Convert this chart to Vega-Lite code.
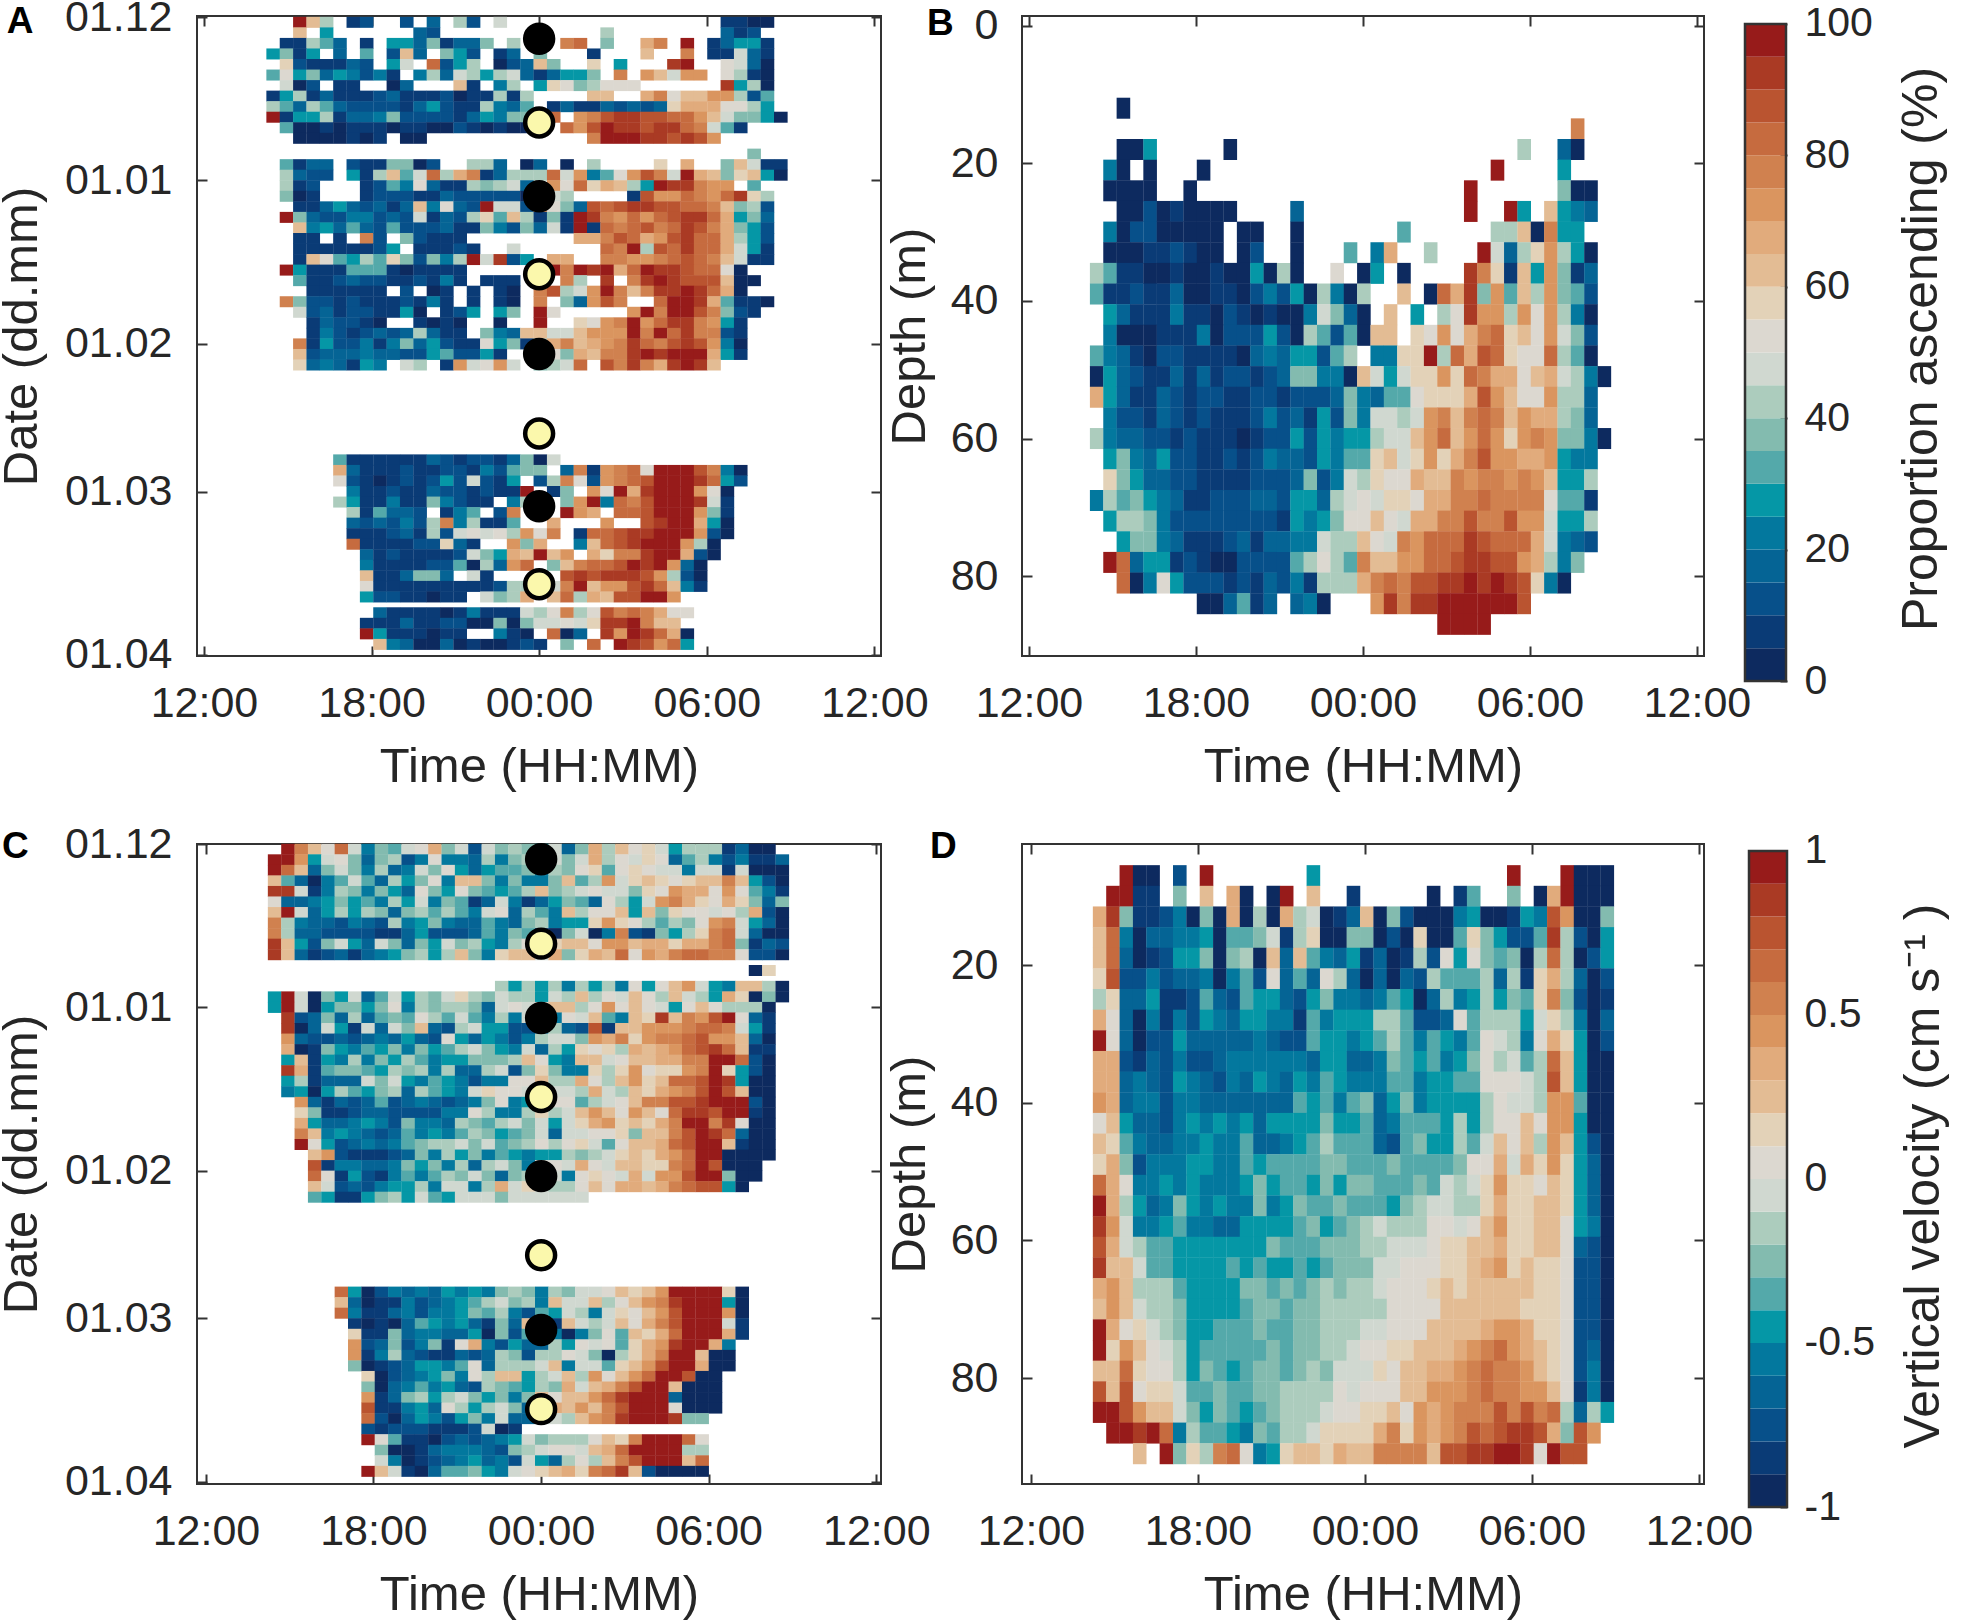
{"$schema":"https://vega.github.io/schema/vega-lite/v6.json","background":"white","padding":{"left":-4,"top":-5,"right":0,"bottom":0},"bounds":"flush","align":"each","columns":4,"spacing":{"row":163,"column":41},
"config":{"font":"Liberation Sans","view":{"stroke":"#333333","strokeWidth":2},"axis":{"labelFont":"Liberation Sans","titleFont":"Liberation Sans","labelFontSize":43,"titleFontSize":49,"titleFontWeight":"normal","labelColor":"#262626","titleColor":"#262626","domain":false,"grid":false,"tickColor":"#333333","tickWidth":2,"tickSize":-10,"labelOverlap":false,"labelBound":false,"labelFlush":false},"text":{"font":"Liberation Sans"}},
"concat":[
{"width":684,"height":640,"layer":[
{"data":{"values":[
{"d":1,"v":[-1,-1,19,12,8,-1,1,2,-1,-1,2,-1,3,-1,8,2,-1,9,-1,-1,-1,-1,-1,-1,-1,-1,-1,-1,-1,-1,-1,-1,-1,-1,1,1,0,0]},
{"d":3,"v":[-1,-1,12,-1,5,-1,-1,-1,-1,-1,-1,3,2,-1,-1,-1,-1,-1,-1,-1,-1,-1,-1,-1,-1,8,-1,-1,-1,-1,-1,-1,-1,-1,3,1,2]},
{"d":5,"v":[-1,1,1,8,6,3,-1,1,-1,5,5,3,7,1,3,3,7,-1,8,-1,-1,-1,15,16,-1,7,-1,-1,13,15,-1,19,-1,1,3,5,5,1]},
{"d":7,"v":[5,7,1,5,-1,3,-1,6,-1,2,12,3,-1,7,5,2,-1,1,3,-1,7,-1,-1,-1,1,-1,-1,-1,12,-1,-1,15,-1,1,1,9,3,1]},
{"d":9,"v":[-1,11,2,1,1,1,3,2,-1,5,9,-1,16,2,5,8,-1,0,2,3,12,7,-1,-1,11,-1,5,-1,-1,-1,18,19,-1,-1,10,9,3,0]},
{"d":11,"v":[6,10,5,7,3,5,4,2,4,1,-1,4,8,3,9,8,5,8,9,3,1,3,5,5,7,-1,15,-1,14,12,9,14,14,-1,10,8,1,0]},
{"d":13,"v":[-1,9,0,2,-1,1,1,-1,-1,0,3,-1,-1,-1,12,1,-1,4,8,-1,5,11,10,7,8,10,10,10,-1,-1,-1,-1,-1,-1,18,5,8,0]},
{"d":15,"v":[1,5,8,1,3,1,1,1,2,3,1,1,1,2,0,1,1,8,1,8,-1,-1,-1,-1,12,12,-1,-1,13,15,10,12,12,14,14,8,2,6]},
{"d":17,"v":[8,6,3,8,6,3,2,2,2,2,1,3,5,2,1,1,8,4,3,6,-1,1,3,1,1,3,2,3,2,3,11,13,13,13,10,10,8,5]},
{"d":19,"v":[19,1,5,5,8,1,3,3,4,7,2,2,2,2,1,3,5,4,7,7,14,16,-1,14,15,17,18,18,17,17,16,16,14,12,9,7,7,5,0]},
{"d":21,"v":[-1,6,0,0,1,0,1,1,1,0,1,1,0,0,2,1,0,1,0,0,12,-1,16,14,17,19,18,18,17,18,18,16,15,9,6,1]},
{"d":23,"v":[-1,-1,0,0,0,0,1,0,1,-1,0,0,-1,-1,-1,-1,-1,-1,-1,-1,-1,-1,-1,-1,15,19,19,19,18,18,17,18,17,14]},
{"d":26,"v":[-1,-1,-1,-1,-1,-1,-1,-1,-1,-1,-1,-1,-1,-1,-1,-1,-1,-1,-1,-1,-1,-1,-1,-1,-1,-1,-1,-1,-1,-1,-1,-1,-1,-1,-1,-1,7]},
{"d":28,"v":[-1,6,1,3,3,-1,2,1,1,7,7,0,2,-1,-1,8,8,3,-1,0,3,-1,0,-1,8,-1,-1,-1,-1,11,-1,13,-1,-1,7,12,9,1,1]},
{"d":30,"v":[-1,8,3,2,2,-1,5,1,8,12,6,9,16,8,13,15,1,3,8,8,8,16,9,14,4,6,10,14,17,15,9,19,13,12,7,11,12,5,0]},
{"d":32,"v":[-1,8,1,2,-1,-1,-1,1,2,6,4,10,3,1,1,8,7,8,9,3,-1,14,10,16,11,13,12,8,5,19,18,18,15,14,14,-1,6]},
{"d":34,"v":[-1,7,0,1,-1,-1,-1,1,2,2,2,1,1,3,2,2,2,2,2,0,-1,9,8,-1,-1,-1,-1,1,17,14,14,16,15,14,16,18,11,8]},
{"d":36,"v":[-1,-1,1,1,3,5,3,2,3,1,3,12,4,10,3,2,19,9,9,2,14,10,7,3,17,16,17,18,18,17,17,16,16,15,12,7,8,2]},
{"d":38,"v":[-1,19,7,3,2,2,4,4,2,3,2,9,1,3,2,8,11,6,12,8,1,7,1,19,18,15,14,16,14,16,17,18,18,16,13,5,7,3]},
{"d":40,"v":[-1,-1,12,4,5,3,6,3,2,6,2,2,2,3,1,1,7,4,2,7,3,9,1,19,1,16,15,16,17,15,16,18,17,15,13,7,5,2]},
{"d":42,"v":[-1,-1,1,1,-1,1,-1,15,2,-1,7,2,1,1,1,-1,-1,-1,-1,-1,-1,-1,-1,13,13,15,17,16,13,14,17,18,16,16,13,8,5,2]},
{"d":44,"v":[-1,-1,1,1,1,1,1,1,2,5,-1,1,1,1,2,1,-1,-1,9,-1,-1,-1,-1,-1,-1,16,15,19,8,17,16,18,16,16,13,9,5,1]},
{"d":46,"v":[-1,-1,1,12,10,6,5,8,6,11,7,2,7,4,8,19,9,18,2,5,-1,13,13,-1,-1,15,15,14,14,15,16,17,16,15,12,9,1,1]},
{"d":48,"v":[-1,19,5,1,1,1,6,6,6,1,0,1,1,1,1,-1,-1,-1,-1,-1,-1,19,15,19,18,19,13,16,19,18,18,17,16,16,10,0]},
{"d":50,"v":[-1,-1,6,1,1,2,3,2,2,1,1,2,1,4,1,-1,1,1,1,-1,-1,-1,15,8,-1,18,-1,15,18,19,18,17,17,17,12,0,0]},
{"d":52,"v":[-1,-1,-1,1,1,1,1,1,1,-1,2,-1,0,1,-1,1,-1,1,0,-1,15,17,8,9,14,19,15,12,15,18,18,19,18,16,13,0]},
{"d":54,"v":[-1,15,7,2,2,1,2,1,1,1,2,1,4,1,-1,1,-1,1,0,-1,15,-1,7,3,14,17,15,-1,-1,16,19,19,18,13,6,1,1,0]},
{"d":56,"v":[-1,-1,9,2,3,1,2,2,1,1,5,0,-1,1,2,5,-1,5,7,-1,19,10,-1,-1,-1,-1,-1,14,19,15,19,19,17,15,7,2,1]},
{"d":58,"v":[-1,-1,-1,1,3,2,2,1,0,-1,-1,1,0,1,0,-1,-1,0,-1,-1,19,-1,-1,11,10,14,15,19,14,16,18,18,15,14,5,1]},
{"d":60,"v":[-1,-1,-1,1,4,2,1,2,3,2,3,8,3,1,1,-1,7,4,3,12,12,9,9,12,14,14,14,19,15,19,16,18,15,15,2,1]},
{"d":62,"v":[-1,-1,15,1,5,2,2,4,1,4,7,3,5,2,1,1,10,5,7,1,8,13,15,12,13,14,15,18,16,15,17,18,17,14,4,0]},
{"d":64,"v":[-1,-1,12,2,3,3,3,4,3,3,2,2,5,6,2,2,5,1,-1,-1,5,10,7,13,12,15,15,18,19,18,19,19,19,13,5,1]},
{"d":66,"v":[-1,-1,11,3,4,3,1,5,4,-1,9,8,-1,1,14,9,10,14,9,-1,7,8,9,16,-1,17,15,18,15,13,18,19,18,12]},
{"d":84,"v":[-1,-1,-1,-1,-1,6,1,1,1,1,1,1,3,2,1,2,2,1,3,7,0,9]},
{"d":86,"v":[-1,-1,-1,-1,-1,13,3,1,1,1,2,1,1,2,2,1,4,2,6,7,7,-1,3,15,1,14,15,16,10,19,19,19,17,15,4,0]},
{"d":88,"v":[-1,-1,-1,-1,-1,10,2,1,0,1,2,1,2,5,2,9,2,1,5,-1,2,8,15,10,2,14,15,16,17,19,19,19,18,16,5,2]},
{"d":90,"v":[-1,-1,-1,-1,-1,-1,4,1,1,2,1,1,3,2,2,1,2,1,1,19,-1,1,7,-1,14,10,19,13,18,19,19,19,14,10,0]},
{"d":92,"v":[-1,-1,-1,-1,-1,8,5,1,1,4,1,1,7,4,2,1,1,-1,4,8,-1,-1,7,14,19,4,16,15,17,19,19,19,18,9,1]},
{"d":94,"v":[-1,-1,-1,-1,-1,-1,8,1,6,3,3,2,-1,1,4,6,-1,2,15,-1,-1,-1,19,14,13,-1,16,16,17,19,19,19,14,7,1]},
{"d":96,"v":[-1,-1,-1,-1,-1,-1,3,2,3,2,4,2,8,15,4,8,1,1,6,-1,-1,13,-1,-1,-1,14,-1,-1,17,18,19,19,13,5,0]},
{"d":98,"v":[-1,-1,-1,-1,-1,-1,1,1,1,2,3,1,8,2,9,10,9,10,8,14,10,15,-1,1,16,16,17,18,18,19,19,19,14,2,0]},
{"d":100,"v":[-1,-1,-1,-1,-1,-1,16,1,1,1,1,2,2,11,3,1,-1,-1,14,7,13,-1,-1,4,12,16,17,18,19,19,19,14,8,0]},
{"d":102,"v":[-1,-1,-1,-1,-1,-1,-1,3,1,2,1,1,1,1,2,9,7,5,13,12,19,12,14,-1,13,11,15,15,18,19,19,13,2,0]},
{"d":104,"v":[-1,-1,-1,-1,-1,-1,-1,4,1,1,1,1,2,2,6,0,8,3,14,16,-1,7,12,15,16,16,17,19,18,19,14,3,0]},
{"d":106,"v":[-1,-1,-1,-1,-1,-1,-1,12,1,1,3,7,7,3,-1,9,1,-1,-1,-1,16,-1,17,18,17,18,18,18,17,14,8,2,0]},
{"d":108,"v":[-1,-1,-1,-1,-1,-1,-1,10,1,1,1,1,1,1,1,1,1,2,8,8,-1,9,15,19,12,14,14,17,18,16,12,4,1]},
{"d":110,"v":[-1,-1,-1,-1,-1,-1,-1,5,2,2,1,1,0,1,1,-1,9,7,8,13,-1,12,16,8,13,12,17,17,19,19,14]},
{"d":113,"v":[-1,-1,-1,-1,-1,-1,-1,-1,3,1,1,1,1,0,1,4,1,1,1,9,8,10,15,8,10,17,15,16,15,13,10,10]},
{"d":115,"v":[-1,-1,-1,-1,-1,-1,-1,1,1,1,3,1,1,2,2,0,0,7,0,7,9,9,10,9,11,18,18,19,15,12,12]},
{"d":117,"v":[-1,-1,-1,-1,-1,-1,-1,19,5,1,1,1,0,1,1,-1,-1,4,1,0,-1,16,0,3,-1,18,14,19,18,16,13,0]},
{"d":119,"v":[-1,-1,-1,-1,-1,-1,-1,-1,12,4,3,0,0,3,0,1,0,0,1,2,1,-1,7,-1,16,-1,19,18,17,14,16,5]}
]},"transform":[{"flatten":["v"]},{"window":[{"op":"row_number","as":"i"}],"groupby":["d"]},{"filter":"datum.v>=0"}],
"mark":{"type":"rect","width":13.6,"height":11,"xOffset":6.7},
"encoding":{"x":{"field":"i","type":"quantitative","scale":{"domain":[-4.2,47],"nice":false,"zero":false},"axis":{"values":[-3.68,8.87,21.41,33.96,46.5],"labelExpr":"datum.value<0?'12:00':datum.value<15?'18:00':datum.value<25?'00:00':datum.value<40?'06:00':'12:00'","title":"Time (HH:MM)","labelPadding":36,"titlePadding":17}},
"y":{"field":"d","type":"quantitative","scale":{"domain":[-0.2,121.2],"nice":false,"zero":false,"reverse":true},"axis":{"values":[0,31,62,90,121],"labelExpr":"datum.value==0?'01.12':datum.value==31?'01.01':datum.value==62?'01.02':datum.value==90?'01.03':'01.04'","title":"Date (dd.mm)","labelPadding":35,"titlePadding":18}},
"color":{"field":"v","type":"ordinal","scale":{"domain":[0,1,2,3,4,5,6,7,8,9,10,11,12,13,14,15,16,17,18,19],"range":["#0D2A5F","#0A3B76","#07508A","#056495","#03789E","#0597A6","#54A9AA","#83BBAF","#ACCCBD","#D0D8D0","#DCD8D0","#E3D2B8","#E3BC94","#E1AB7C","#DA955F","#D0814F","#C66B3F","#BA5430","#AA3A24","#971B1A"]},"legend":null}}},
{"data":{"values":[{"i":21.41,"d":4.1,"phase":"new"},{"i":21.41,"d":20,"phase":"full"},{"i":21.41,"d":34,"phase":"new"},{"i":21.41,"d":48.8,"phase":"full"},{"i":21.41,"d":63.9,"phase":"new"},{"i":21.41,"d":79,"phase":"full"},{"i":21.41,"d":92.8,"phase":"new"},{"i":21.41,"d":107.6,"phase":"full"}]},
"mark":{"type":"point","filled":true,"size":780,"stroke":"#000000","strokeWidth":4.5,"opacity":1},
"encoding":{"x":{"field":"i","type":"quantitative","axis":{"orient":"top","labels":false,"title":null,"values":[-3.68,8.87,21.41,33.96,46.5]}},"y":{"field":"d","type":"quantitative","axis":{"orient":"right","labels":false,"title":null,"values":[0,31,62,90,121]}},"color":{"field":"phase","type":"nominal","scale":{"domain":["new","full"],"range":["#000000","#FBF8AC"]},"legend":null}}},
{"data":{"values":[{"i":-17.45,"d":1,"label":"A"}]},"mark":{"type":"text","fontSize":37,"fontWeight":"bold","color":"#000000","clip":false},"encoding":{"x":{"field":"i","type":"quantitative","axis":null},"y":{"field":"d","type":"quantitative","axis":null},"text":{"field":"label"}}}
],"resolve":{"axis":{"x":"independent","y":"independent"},"scale":{"color":"independent"}}},
{"width":59,"height":640,"view":{"stroke":null},"data":{"values":[]},"mark":"rect","encoding":{}},
{"width":682,"height":640,"layer":[
{"data":{"values":[
{"d":12,"v":[-1,-1,0]},
{"d":15,"v":[-1,-1,-1,-1,-1,-1,-1,-1,-1,-1,-1,-1,-1,-1,-1,-1,-1,-1,-1,-1,-1,-1,-1,-1,-1,-1,-1,-1,-1,-1,-1,-1,-1,-1,-1,-1,15]},
{"d":18,"v":[-1,-1,0,0,5,-1,-1,-1,-1,-1,0,-1,-1,-1,-1,-1,-1,-1,-1,-1,-1,-1,-1,-1,-1,-1,-1,-1,-1,-1,-1,-1,8,-1,-1,3,0]},
{"d":21,"v":[-1,4,0,-1,0,-1,-1,-1,0,-1,-1,-1,-1,-1,-1,-1,-1,-1,-1,-1,-1,-1,-1,-1,-1,-1,-1,-1,-1,-1,19,-1,-1,-1,-1,5]},
{"d":24,"v":[-1,0,0,0,0,-1,-1,0,-1,-1,-1,-1,-1,-1,-1,-1,-1,-1,-1,-1,-1,-1,-1,-1,-1,-1,-1,-1,19,-1,-1,-1,-1,-1,-1,7,0,0]},
{"d":27,"v":[-1,-1,0,0,2,0,1,0,0,0,0,-1,-1,-1,-1,3,-1,-1,-1,-1,-1,-1,-1,-1,-1,-1,-1,-1,19,-1,-1,19,5,-1,12,5,4,3]},
{"d":30,"v":[-1,4,0,2,2,0,0,0,0,0,-1,0,0,-1,-1,0,-1,-1,-1,-1,-1,-1,-1,6,-1,-1,-1,-1,-1,-1,8,8,12,0,15,5,5]},
{"d":33,"v":[-1,0,0,0,1,1,2,1,0,0,-1,0,2,-1,-1,0,-1,-1,-1,6,-1,4,13,-1,-1,8,-1,-1,-1,19,9,3,8,11,14,8,5,0]},
{"d":36,"v":[8,6,1,1,0,0,1,0,0,1,0,0,5,0,8,0,-1,-1,10,-1,0,5,-1,0,-1,-1,-1,-1,18,15,11,1,12,5,14,7,1,3]},
{"d":39,"v":[6,1,1,2,1,1,3,0,0,1,1,0,2,4,2,5,0,8,4,0,8,-1,-1,12,-1,0,16,13,18,7,14,6,12,8,14,7,6,2]},
{"d":42,"v":[-1,5,3,1,1,1,4,1,1,0,2,1,0,1,0,0,4,9,7,3,0,-1,12,-1,5,-1,8,10,18,14,14,8,14,10,14,8,4,0]},
{"d":45,"v":[-1,4,0,0,0,1,1,1,4,0,2,2,2,5,2,0,8,6,2,6,0,12,12,-1,11,10,14,10,13,15,16,11,12,10,14,9,7,2]},
{"d":48,"v":[6,4,3,1,0,2,2,1,1,1,1,0,3,4,3,5,5,2,6,8,-1,4,4,11,11,19,8,16,13,17,16,11,10,10,16,8,6,0]},
{"d":51,"v":[0,5,3,2,1,1,3,1,3,1,2,2,1,2,3,7,7,4,4,0,12,9,5,9,11,11,14,11,16,15,13,13,10,12,13,9,8,4,0]},
{"d":54,"v":[13,5,3,1,1,3,2,1,2,2,1,1,2,2,1,2,2,2,3,7,4,3,6,6,10,11,11,11,13,17,14,12,10,10,14,8,8,3]},
{"d":57,"v":[-1,4,2,2,1,3,2,1,2,1,1,1,2,4,2,3,1,5,2,7,4,9,9,8,9,14,15,12,15,16,15,12,14,13,13,8,7,3]},
{"d":60,"v":[8,4,3,3,2,2,1,2,1,1,1,0,1,2,2,5,2,5,4,5,5,8,9,9,12,14,16,12,14,16,14,11,14,15,14,7,7,4,0]},
{"d":63,"v":[-1,5,7,4,3,5,2,2,1,1,2,1,2,4,3,3,2,5,4,6,6,11,12,9,11,14,11,13,15,17,14,14,13,13,14,5,4,4]},
{"d":66,"v":[-1,11,7,5,3,3,2,2,1,1,1,1,2,2,2,3,7,2,4,9,8,11,10,10,13,12,12,15,14,15,15,14,15,14,12,5,5,8]},
{"d":69,"v":[4,8,6,7,5,4,3,1,1,2,2,2,3,3,2,5,5,3,8,9,10,9,11,11,10,13,13,15,15,16,15,15,15,15,10,6,6,1]},
{"d":72,"v":[-1,5,8,8,7,4,2,2,2,2,2,2,2,2,1,5,4,5,7,10,10,12,10,9,13,13,15,15,17,15,15,17,14,14,9,5,5,8]},
{"d":75,"v":[-1,-1,5,7,7,4,3,1,1,1,2,3,1,3,3,4,4,9,8,8,12,10,9,15,14,16,16,16,18,17,16,16,16,13,9,4,3,2]},
{"d":78,"v":[-1,19,16,3,5,5,1,2,1,0,0,2,2,2,2,6,8,10,8,6,15,12,12,14,14,16,16,17,18,18,17,17,14,13,8,4,7]},
{"d":81,"v":[-1,-1,16,0,4,10,5,2,2,2,1,2,1,3,2,4,1,8,8,8,13,15,16,15,17,17,18,18,19,18,19,18,17,11,4,0]},
{"d":84,"v":[-1,-1,-1,-1,-1,-1,-1,-1,0,0,3,6,1,3,-1,3,4,0,-1,-1,-1,14,18,15,18,18,19,19,19,19,19,19,17]},
{"d":87,"v":[-1,-1,-1,-1,-1,-1,-1,-1,-1,-1,-1,-1,-1,-1,-1,-1,-1,-1,-1,-1,-1,-1,-1,-1,-1,-1,19,19,19,19]}
]},"transform":[{"flatten":["v"]},{"window":[{"op":"row_number","as":"i"}],"groupby":["d"]},{"filter":"datum.v>=0"}],
"mark":{"type":"rect","width":13.6,"height":21,"xOffset":6.7},
"encoding":{"x":{"field":"i","type":"quantitative","scale":{"domain":[-4.09,46.96],"nice":false,"zero":false},"axis":{"values":[-3.57,8.93,21.43,33.93,46.43],"labelExpr":"datum.value<0?'12:00':datum.value<15?'18:00':datum.value<25?'00:00':datum.value<40?'06:00':'12:00'","title":"Time (HH:MM)","labelPadding":36,"titlePadding":17}},
"y":{"field":"d","type":"quantitative","scale":{"domain":[-1.4,91.6],"nice":false,"zero":false,"reverse":true},"axis":{"values":[0,20,40,60,80],"title":"Depth (m)","labelPadding":34,"titlePadding":16}},
"color":{"field":"v","type":"ordinal","scale":{"domain":[0,1,2,3,4,5,6,7,8,9,10,11,12,13,14,15,16,17,18,19],"range":["#0D2A5F","#0A3B76","#07508A","#056495","#03789E","#0597A6","#54A9AA","#83BBAF","#ACCCBD","#D0D8D0","#DCD8D0","#E3D2B8","#E3BC94","#E1AB7C","#DA955F","#D0814F","#C66B3F","#BA5430","#AA3A24","#971B1A"]},"legend":null}}},
{"data":{"values":[{"i":-10.2,"d":-0.3,"label":"B"}]},"mark":{"type":"text","fontSize":37,"fontWeight":"bold","color":"#000000","clip":false},"encoding":{"x":{"field":"i","type":"quantitative","axis":{"orient":"top","labels":false,"title":null,"values":[-3.57,8.93,21.43,33.93,46.43]}},"y":{"field":"d","type":"quantitative","axis":{"orient":"right","labels":false,"title":null,"values":[0,20,40,60,80]}},"text":{"field":"label"}}}
],"resolve":{"axis":{"x":"independent","y":"independent"}}},
{"width":42,"height":665,"view":{"stroke":null},"layer":[
{"data":{"values":[{"lo":0,"hi":5,"v":0},{"lo":5,"hi":10,"v":1},{"lo":10,"hi":15,"v":2},{"lo":15,"hi":20,"v":3},{"lo":20,"hi":25,"v":4},{"lo":25,"hi":30,"v":5},{"lo":30,"hi":35,"v":6},{"lo":35,"hi":40,"v":7},{"lo":40,"hi":45,"v":8},{"lo":45,"hi":50,"v":9},{"lo":50,"hi":55,"v":10},{"lo":55,"hi":60,"v":11},{"lo":60,"hi":65,"v":12},{"lo":65,"hi":70,"v":13},{"lo":70,"hi":75,"v":14},{"lo":75,"hi":80,"v":15},{"lo":80,"hi":85,"v":16},{"lo":85,"hi":90,"v":17},{"lo":90,"hi":95,"v":18},{"lo":95,"hi":100,"v":19}]},
"mark":{"type":"rect"},
"encoding":{"x":{"datum":0,"scale":{"domain":[0,42]},"axis":null},"x2":{"datum":41},"y":{"field":"lo","type":"quantitative","scale":{"domain":[0,101.2],"nice":false,"zero":false},"axis":{"orient":"right","values":[0,20,40,60,80,100],"labelFontSize":41,"tickSize":-7,"title":"Proportion ascending (%)","titleFontSize":50,"titleAngle":270,"titleBaseline":"top","labelPadding":24,"titlePadding":24}},"y2":{"field":"hi"},
"color":{"field":"v","type":"ordinal","scale":{"domain":[0,1,2,3,4,5,6,7,8,9,10,11,12,13,14,15,16,17,18,19],"range":["#0D2A5F","#0A3B76","#07508A","#056495","#03789E","#0597A6","#54A9AA","#83BBAF","#ACCCBD","#D0D8D0","#DCD8D0","#E3D2B8","#E3BC94","#E1AB7C","#DA955F","#D0814F","#C66B3F","#BA5430","#AA3A24","#971B1A"]},"legend":null}}},
{"data":{"values":[{"lo":0,"hi":100}]},"mark":{"type":"rect","fillOpacity":0,"stroke":"#333333","strokeWidth":2.5},"encoding":{"x":{"datum":0,"scale":{"domain":[0,42]},"axis":null},"x2":{"datum":41},"y":{"field":"lo","type":"quantitative"},"y2":{"field":"hi"}}}
]},
{"width":684,"height":640,"layer":[
{"data":{"values":[
{"d":1,"v":[-1,19,15,12,10,16,9,4,7,6,9,10,13,7,9,2,9,7,8,7,5,9,3,7,13,8,12,10,11,9,5,8,8,8,1,3,0,0]},
{"d":3,"v":[19,19,14,5,9,10,7,3,7,8,2,4,10,4,4,3,8,4,7,8,5,9,7,9,13,8,10,9,11,10,3,6,8,4,2,4,1,1,3]},
{"d":5,"v":[19,16,12,3,7,9,7,4,8,3,4,9,7,10,5,3,5,6,6,7,4,8,7,10,11,6,10,11,10,9,9,4,9,9,1,9,0,0,0]},
{"d":7,"v":[12,6,3,0,4,6,9,6,3,8,5,7,10,4,12,12,7,4,7,4,4,7,12,6,8,14,9,11,12,11,10,11,12,12,15,12,5,2,0]},
{"d":9,"v":[18,18,9,1,4,8,7,4,7,5,3,10,7,5,10,7,6,5,6,8,12,7,8,9,10,9,9,7,11,10,14,13,13,10,14,10,6,4,1]},
{"d":11,"v":[10,3,3,4,5,7,5,6,4,8,5,9,4,7,6,1,3,9,4,1,3,5,7,6,3,10,8,5,9,14,15,13,11,10,13,11,7,3,7]},
{"d":13,"v":[12,19,9,3,5,8,5,8,7,3,7,8,6,8,6,4,9,10,3,8,6,4,12,8,10,10,12,5,12,7,11,10,10,9,10,8,13,2,0]},
{"d":15,"v":[15,8,4,3,3,2,4,3,2,8,4,5,7,4,3,3,6,4,3,7,8,4,5,5,11,14,11,10,8,6,8,7,10,14,15,9,5,3,0]},
{"d":17,"v":[15,8,3,3,2,2,2,2,1,1,3,5,2,2,2,3,6,4,7,6,1,0,7,9,0,4,15,2,1,7,5,8,11,15,16,9,3,0,0]},
{"d":19,"v":[18,12,5,2,7,9,5,3,9,7,3,7,5,9,7,8,5,4,8,10,8,11,12,12,10,14,14,12,13,13,11,13,13,15,16,7,1,3,2]},
{"d":21,"v":[18,12,3,1,2,3,1,3,4,5,7,8,5,8,12,7,4,11,12,12,9,13,7,11,13,12,16,10,14,13,15,16,16,15,15,10,2,2,0]},
{"d":24,"v":[-1,-1,-1,-1,-1,-1,-1,-1,-1,-1,-1,-1,-1,-1,-1,-1,-1,-1,-1,-1,-1,-1,-1,-1,-1,-1,-1,-1,-1,-1,-1,-1,-1,-1,-1,-1,0,11]},
{"d":27,"v":[-1,-1,-1,-1,-1,-1,-1,-1,-1,-1,-1,-1,-1,-1,-1,-1,-1,8,5,8,5,8,4,8,5,8,4,10,5,10,12,14,9,5,4,12,12,8,0]},
{"d":29,"v":[5,19,9,0,7,5,9,3,6,9,5,8,7,9,11,8,7,9,8,8,5,9,8,12,8,10,9,12,10,8,12,9,8,5,13,11,0,7,0]},
{"d":31,"v":[5,19,9,0,5,7,7,5,7,10,4,8,7,8,8,7,3,9,10,9,10,12,12,8,10,14,10,12,10,9,5,10,12,10,8,8,8,0]},
{"d":33,"v":[-1,18,2,3,7,3,8,3,6,7,6,10,8,6,9,6,4,8,4,9,10,4,10,9,12,6,4,12,11,18,12,15,14,17,19,10,3,1]},
{"d":35,"v":[-1,18,0,3,9,5,1,9,3,9,7,12,3,2,8,9,5,5,2,2,3,8,3,2,17,1,12,12,14,14,14,15,16,16,15,9,5,1]},
{"d":37,"v":[-1,14,3,2,2,3,2,3,4,3,5,3,2,10,5,3,5,4,2,4,8,9,9,7,14,13,15,11,14,15,15,16,17,14,14,12,3,0]},
{"d":39,"v":[-1,13,0,1,7,5,4,6,5,7,4,7,5,6,8,9,7,5,4,9,3,8,5,11,10,11,8,13,12,13,14,16,17,18,16,12,1,1]},
{"d":41,"v":[-1,5,12,1,5,4,8,4,7,5,8,6,4,5,5,7,7,7,8,12,10,5,4,12,12,9,10,12,12,13,13,15,15,19,19,16,2,0]},
{"d":43,"v":[-1,18,13,1,6,7,7,6,5,8,7,8,4,8,3,3,8,9,2,7,11,7,4,4,11,8,11,14,10,11,11,14,15,19,11,5,2,0]},
{"d":45,"v":[-1,5,8,1,3,3,3,9,7,9,5,4,6,5,4,2,4,4,10,10,12,8,8,13,10,8,12,14,11,12,16,16,17,19,18,5,0,0]},
{"d":47,"v":[-1,4,5,0,5,8,6,5,7,8,3,8,6,5,4,9,11,10,10,9,12,9,9,8,13,9,8,12,11,13,14,15,17,19,17,12,0,0]},
{"d":49,"v":[-1,-1,14,3,1,3,2,3,6,2,3,4,3,2,3,4,7,10,4,5,10,10,10,6,8,9,10,12,15,15,17,17,18,19,19,19,2,0]},
{"d":51,"v":[-1,-1,11,7,1,1,2,3,3,2,2,2,2,4,4,10,8,4,4,8,11,8,9,12,14,12,10,14,12,10,16,18,18,17,19,19,1,0]},
{"d":53,"v":[-1,-1,13,5,3,3,4,5,4,2,7,4,4,3,8,7,6,8,9,7,9,5,9,11,13,14,11,12,11,13,15,19,19,15,18,10,0,0]},
{"d":55,"v":[-1,-1,15,12,4,5,4,3,2,3,6,4,5,4,6,8,7,5,6,7,9,3,9,9,10,10,11,7,12,12,15,17,19,18,16,3,0,0]},
{"d":57,"v":[-1,-1,19,10,5,2,3,4,3,4,6,7,8,8,9,7,9,6,7,8,10,8,10,11,9,6,10,12,12,13,16,17,19,19,12,1,0,0]},
{"d":59,"v":[-1,-1,-1,12,14,2,1,1,1,2,3,7,4,8,5,7,4,6,5,4,5,5,8,7,8,9,11,12,11,13,14,16,19,19,0,0,0,0]},
{"d":61,"v":[-1,-1,-1,17,1,4,4,3,3,4,7,5,7,4,8,3,8,9,7,4,10,10,9,13,10,9,12,12,11,11,15,16,19,17,0,0,0]},
{"d":63,"v":[-1,-1,-1,16,10,1,5,2,1,4,6,4,6,8,7,9,7,3,7,8,10,9,4,10,11,10,9,13,9,14,14,17,19,19,7,0,0]},
{"d":65,"v":[-1,-1,-1,12,9,2,3,2,4,5,5,8,4,9,9,4,8,13,9,11,9,8,8,10,12,10,13,13,12,13,15,16,17,17,5,0]},
{"d":67,"v":[-1,-1,-1,6,5,1,1,5,7,8,5,9,6,5,9,9,9,7,9,9,9,9,9,9]},
{"d":85,"v":[-1,-1,-1,-1,-1,16,5,0,2,4,3,4,3,5,4,5,4,7,8,7,4,8,7,9,9,10,12,11,12,14,19,19,19,19,11,0]},
{"d":87,"v":[-1,-1,-1,-1,-1,12,3,0,1,1,4,2,3,4,5,6,8,9,7,8,4,12,9,9,12,8,10,12,14,15,18,19,19,19,5,0]},
{"d":89,"v":[-1,-1,-1,-1,-1,16,4,1,1,3,4,2,4,4,5,7,6,8,4,2,6,5,9,8,4,9,11,10,12,14,17,19,19,19,14,0]},
{"d":91,"v":[-1,-1,-1,-1,-1,-1,1,0,1,0,3,6,5,4,5,3,1,7,3,12,8,1,12,9,8,9,12,10,13,15,17,19,19,19,9,1]},
{"d":93,"v":[-1,-1,-1,-1,-1,-1,11,1,1,7,3,4,4,3,3,5,0,7,2,6,1,4,0,4,7,10,6,12,11,13,16,19,19,19,13,1]},
{"d":95,"v":[-1,-1,-1,-1,-1,-1,14,2,3,7,2,4,7,1,10,13,4,2,5,3,3,8,5,10,9,10,6,11,13,14,18,19,19,13,4]},
{"d":97,"v":[-1,-1,-1,-1,-1,-1,14,1,4,8,3,2,1,1,3,2,3,8,7,2,8,8,10,9,7,0,8,11,13,15,19,19,12,0,0]},
{"d":99,"v":[-1,-1,-1,-1,-1,-1,7,0,1,2,3,5,5,4,6,10,3,8,8,8,9,12,4,9,9,6,11,12,14,17,19,19,13,0,0]},
{"d":101,"v":[-1,-1,-1,-1,-1,-1,-1,11,0,2,3,4,5,7,4,10,8,12,12,5,8,9,12,8,14,10,12,14,16,19,19,17,0,0]},
{"d":103,"v":[-1,-1,-1,-1,-1,-1,-1,7,0,3,4,6,4,5,3,2,8,7,6,5,8,7,13,9,12,13,15,17,19,19,12,0,0,0]},
{"d":105,"v":[-1,-1,-1,-1,-1,-1,-1,14,1,3,7,8,5,8,9,7,5,7,4,7,12,10,12,12,14,16,18,19,19,19,3,0,0,0]},
{"d":107,"v":[-1,-1,-1,-1,-1,-1,-1,17,1,1,4,5,3,10,8,5,8,9,7,3,8,13,12,14,12,15,17,19,19,19,10,0,0,0]},
{"d":109,"v":[-1,-1,-1,-1,-1,-1,-1,16,2,0,3,5,4,2,5,7,4,9,3,3,8,9,8,12,14,15,18,19,19,19,18,7,7]},
{"d":111,"v":[-1,-1,-1,-1,-1,-1,-1,2,1,2,2,2,1,1,1,2,9,0,1]},
{"d":113,"v":[-1,-1,-1,-1,-1,-1,-1,19,10,6,1,1,0,2,3,2,3,4,5,9,7,8,8,8,10,12,11,15,19,19,19,16,10]},
{"d":115,"v":[-1,-1,-1,-1,-1,-1,-1,-1,7,0,0,1,3,4,4,4,3,2,7,8,9,10,10,9,12,13,16,19,19,19,19,8,8]},
{"d":117,"v":[-1,-1,-1,-1,-1,-1,-1,-1,9,4,0,1,2,3,4,5,3,4,2,9,5,3,8,10,8,12,15,17,19,19,19,12,16]},
{"d":119,"v":[-1,-1,-1,-1,-1,-1,-1,19,12,9,1,0,3,6,6,7,5,4,9,10,11,12,13,11,15,16,18,12,2,0,0,0,0]}
]},"transform":[{"flatten":["v"]},{"window":[{"op":"row_number","as":"i"}],"groupby":["d"]},{"filter":"datum.v>=0"}],
"mark":{"type":"rect","width":13.6,"height":11,"xOffset":6.7},
"encoding":{"x":{"field":"i","type":"quantitative","scale":{"domain":[-4.31,46.89],"nice":false,"zero":false},"axis":{"values":[-3.64,8.9,21.45,33.99,46.54],"labelExpr":"datum.value<0?'12:00':datum.value<15?'18:00':datum.value<25?'00:00':datum.value<40?'06:00':'12:00'","title":"Time (HH:MM)","labelPadding":36,"titlePadding":17}},
"y":{"field":"d","type":"quantitative","scale":{"domain":[0,121.4],"nice":false,"zero":false,"reverse":true},"axis":{"values":[0,31,62,90,121],"labelExpr":"datum.value==0?'01.12':datum.value==31?'01.01':datum.value==62?'01.02':datum.value==90?'01.03':'01.04'","title":"Date (dd.mm)","labelPadding":35,"titlePadding":18}},
"color":{"field":"v","type":"ordinal","scale":{"domain":[0,1,2,3,4,5,6,7,8,9,10,11,12,13,14,15,16,17,18,19],"range":["#0D2A5F","#0A3B76","#07508A","#056495","#03789E","#0597A6","#54A9AA","#83BBAF","#ACCCBD","#D0D8D0","#DCD8D0","#E3D2B8","#E3BC94","#E1AB7C","#DA955F","#D0814F","#C66B3F","#BA5430","#AA3A24","#971B1A"]},"legend":null}}},
{"data":{"values":[{"i":21.45,"d":2.9,"phase":"new"},{"i":21.45,"d":18.9,"phase":"full"},{"i":21.45,"d":33,"phase":"new"},{"i":21.45,"d":48,"phase":"full"},{"i":21.45,"d":63,"phase":"new"},{"i":21.45,"d":78,"phase":"full"},{"i":21.45,"d":92.2,"phase":"new"},{"i":21.45,"d":107.2,"phase":"full"}]},
"mark":{"type":"point","filled":true,"size":780,"stroke":"#000000","strokeWidth":4.5,"opacity":1},
"encoding":{"x":{"field":"i","type":"quantitative","axis":{"orient":"top","labels":false,"title":null,"values":[-3.64,8.9,21.45,33.99,46.54]}},"y":{"field":"d","type":"quantitative","axis":{"orient":"right","labels":false,"title":null,"values":[0,31,62,90,121]}},"color":{"field":"phase","type":"nominal","scale":{"domain":["new","full"],"range":["#000000","#FBF8AC"]},"legend":null}}},
{"data":{"values":[{"i":-17.9,"d":0.6,"label":"C"}]},"mark":{"type":"text","fontSize":37,"fontWeight":"bold","color":"#000000","clip":false},"encoding":{"x":{"field":"i","type":"quantitative","axis":null},"y":{"field":"d","type":"quantitative","axis":null},"text":{"field":"label"}}}
],"resolve":{"axis":{"x":"independent","y":"independent"},"scale":{"color":"independent"}}},
{"width":59,"height":640,"view":{"stroke":null},"data":{"values":[]},"mark":"rect","encoding":{}},
{"width":682,"height":640,"layer":[
{"data":{"values":[
{"d":7,"v":[-1,-1,19,0,0,-1,2,-1,19,-1,-1,-1,-1,-1,-1,-1,5,-1,-1,-1,-1,-1,-1,-1,-1,-1,-1,-1,-1,-1,-1,19,-1,-1,-1,19,0,0,0]},
{"d":10,"v":[-1,19,19,1,1,-1,7,-1,12,-1,13,0,-1,0,19,-1,12,-1,-1,1,-1,-1,-1,-1,-1,0,-1,1,6,-1,-1,7,-1,0,13,19,0,0,0]},
{"d":13,"v":[13,18,7,1,1,2,4,0,7,0,13,0,8,0,13,8,9,0,1,3,12,0,7,2,0,0,0,4,5,0,0,1,5,4,17,14,0,0,7]},
{"d":16,"v":[12,16,4,0,3,3,4,4,5,0,6,6,7,9,1,8,11,0,0,7,7,0,2,0,11,0,0,6,11,7,5,2,2,6,18,8,2,0,5]},
{"d":19,"v":[12,16,3,0,1,2,5,5,7,0,7,8,0,12,3,12,6,4,3,5,1,3,0,1,8,2,10,5,10,7,6,7,0,8,16,8,0,2,5]},
{"d":22,"v":[11,17,2,2,4,2,3,3,4,0,4,6,2,10,3,6,3,10,8,3,0,3,0,3,2,8,6,6,6,8,3,8,1,11,13,8,3,0,2]},
{"d":25,"v":[8,11,3,3,5,1,1,2,6,3,2,6,5,5,3,2,5,7,4,4,3,4,6,5,0,3,8,4,5,8,5,7,6,11,15,7,2,0,1]},
{"d":28,"v":[13,10,3,0,4,1,4,2,5,4,3,5,5,4,4,1,6,4,5,5,5,8,8,6,2,2,3,10,6,8,8,8,5,9,11,8,4,0,3]},
{"d":31,"v":[19,10,3,0,2,2,5,3,3,3,3,3,4,3,2,2,6,5,5,4,5,6,8,6,4,6,5,4,6,10,9,8,4,10,13,11,5,0,2]},
{"d":34,"v":[13,13,2,1,3,2,4,2,2,3,4,4,4,4,4,4,3,5,5,3,3,4,7,6,5,6,4,5,7,10,8,9,6,8,16,12,5,0,0]},
{"d":37,"v":[13,13,3,4,3,2,5,4,3,2,4,3,5,4,3,5,4,6,5,4,4,4,6,6,4,5,5,6,6,10,10,10,9,8,17,12,5,0,0]},
{"d":40,"v":[14,13,3,4,4,2,4,4,3,3,3,3,3,3,3,6,5,6,4,6,7,3,5,7,4,5,5,5,5,8,10,9,9,8,14,14,6,0,0]},
{"d":43,"v":[10,12,5,3,3,2,4,5,4,5,4,5,3,5,5,5,5,7,5,5,6,3,4,6,6,6,5,8,5,8,10,10,12,10,14,14,5,0,0]},
{"d":46,"v":[12,11,6,4,3,3,4,4,5,4,4,6,3,3,4,5,6,8,6,6,6,3,2,6,7,5,5,8,6,9,12,10,12,8,14,12,5,2,0]},
{"d":49,"v":[11,13,7,2,4,4,4,5,5,4,4,6,5,6,6,6,6,7,7,6,6,6,7,6,6,6,6,7,10,10,13,9,13,11,14,11,5,3,0]},
{"d":52,"v":[16,13,10,4,4,5,4,5,4,4,4,5,7,5,6,6,5,7,5,7,7,6,6,6,7,6,9,8,9,11,14,11,11,10,12,11,5,3,0]},
{"d":55,"v":[19,13,8,5,3,4,7,5,4,5,4,4,7,4,5,7,6,6,7,6,6,6,5,7,8,9,9,8,8,11,13,11,11,12,12,11,5,3,0]},
{"d":58,"v":[18,14,9,4,4,5,6,4,4,3,3,5,5,5,5,6,7,5,6,7,8,9,8,8,8,10,10,9,10,12,14,11,11,12,12,10,5,4,0]},
{"d":61,"v":[17,13,9,8,6,6,5,5,5,5,5,5,5,7,6,6,6,7,7,7,8,8,9,9,9,10,11,11,12,12,13,11,11,12,12,10,3,2,0]},
{"d":64,"v":[18,12,12,9,6,6,5,5,5,5,6,5,6,5,5,6,5,6,7,7,7,9,9,10,10,10,11,11,12,13,14,11,12,11,11,10,2,2,0]},
{"d":67,"v":[13,14,12,8,8,8,6,5,5,5,5,7,7,6,7,6,7,8,7,8,8,9,10,10,10,11,12,11,12,12,12,12,12,11,11,10,2,2,0]},
{"d":70,"v":[12,14,12,9,8,8,7,5,5,5,5,6,7,7,6,7,7,8,8,8,8,8,10,10,10,10,12,12,12,12,12,12,11,11,11,10,2,2,0]},
{"d":73,"v":[19,13,10,11,9,8,7,5,5,6,6,6,7,6,6,7,7,8,8,8,9,9,10,10,10,12,12,12,12,13,14,14,13,11,11,10,2,2,0]},
{"d":76,"v":[19,11,14,12,10,9,8,5,6,6,6,6,6,7,6,7,7,8,8,9,10,10,11,11,12,12,12,13,14,15,16,14,13,12,11,10,2,3,0]},
{"d":79,"v":[12,12,16,11,10,10,8,5,7,6,5,6,7,7,6,7,8,7,9,9,9,11,10,12,12,13,13,14,15,16,15,15,14,12,11,10,2,4,0]},
{"d":82,"v":[17,12,17,10,11,11,9,6,6,7,6,6,7,7,8,8,8,8,10,9,10,10,10,12,12,14,14,14,15,16,15,15,14,14,12,10,1,4,0]},
{"d":85,"v":[19,19,17,14,12,12,9,7,5,7,6,5,6,7,8,8,8,9,10,10,11,11,12,10,14,13,14,15,15,15,17,15,17,15,16,8,3,8,5]},
{"d":88,"v":[-1,19,19,18,19,16,4,8,6,6,5,4,7,6,8,8,9,11,11,11,11,13,15,11,14,13,14,15,17,16,17,18,18,17,13,7,17,14]},
{"d":91,"v":[-1,-1,-1,12,-1,19,7,11,8,15,16,10,4,5,11,12,12,11,13,12,12,15,15,15,15,12,17,17,18,18,19,19,18,10,19,17,17]}
]},"transform":[{"flatten":["v"]},{"window":[{"op":"row_number","as":"i"}],"groupby":["d"]},{"filter":"datum.v>=0"}],
"mark":{"type":"rect","width":13.6,"height":21,"xOffset":6.7},
"encoding":{"x":{"field":"i","type":"quantitative","scale":{"domain":[-4.31,46.74],"nice":false,"zero":false},"axis":{"values":[-3.64,8.86,21.36,33.86,46.36],"labelExpr":"datum.value<0?'12:00':datum.value<15?'18:00':datum.value<25?'00:00':datum.value<40?'06:00':'12:00'","title":"Time (HH:MM)","labelPadding":36,"titlePadding":17}},
"y":{"field":"d","type":"quantitative","scale":{"domain":[2.4,95.4],"nice":false,"zero":false,"reverse":true},"axis":{"values":[20,40,60,80],"title":"Depth (m)","labelPadding":34,"titlePadding":16}},
"color":{"field":"v","type":"ordinal","scale":{"domain":[0,1,2,3,4,5,6,7,8,9,10,11,12,13,14,15,16,17,18,19],"range":["#0D2A5F","#0A3B76","#07508A","#056495","#03789E","#0597A6","#54A9AA","#83BBAF","#ACCCBD","#D0D8D0","#DCD8D0","#E3D2B8","#E3BC94","#E1AB7C","#DA955F","#D0814F","#C66B3F","#BA5430","#AA3A24","#971B1A"]},"legend":null}}},
{"data":{"values":[{"i":-10.2,"d":2.8,"label":"D"}]},"mark":{"type":"text","fontSize":37,"fontWeight":"bold","color":"#000000","clip":false},"encoding":{"x":{"field":"i","type":"quantitative","axis":{"orient":"top","labels":false,"title":null,"values":[-3.64,8.86,21.36,33.86,46.36]}},"y":{"field":"d","type":"quantitative","axis":{"orient":"right","labels":false,"title":null,"values":[20,40,60,80]}},"text":{"field":"label"}}}
],"resolve":{"axis":{"x":"independent","y":"independent"}}},
{"width":42,"height":663,"view":{"stroke":null},"layer":[
{"data":{"values":[{"lo":-1,"hi":-0.9,"v":0},{"lo":-0.9,"hi":-0.8,"v":1},{"lo":-0.8,"hi":-0.7,"v":2},{"lo":-0.7,"hi":-0.6,"v":3},{"lo":-0.6,"hi":-0.5,"v":4},{"lo":-0.5,"hi":-0.4,"v":5},{"lo":-0.4,"hi":-0.3,"v":6},{"lo":-0.3,"hi":-0.2,"v":7},{"lo":-0.2,"hi":-0.1,"v":8},{"lo":-0.1,"hi":0,"v":9},{"lo":0,"hi":0.1,"v":10},{"lo":0.1,"hi":0.2,"v":11},{"lo":0.2,"hi":0.3,"v":12},{"lo":0.3,"hi":0.4,"v":13},{"lo":0.4,"hi":0.5,"v":14},{"lo":0.5,"hi":0.6,"v":15},{"lo":0.6,"hi":0.7,"v":16},{"lo":0.7,"hi":0.8,"v":17},{"lo":0.8,"hi":0.9,"v":18},{"lo":0.9,"hi":1,"v":19}]},
"mark":{"type":"rect"},
"encoding":{"x":{"datum":4,"scale":{"domain":[0,42]},"axis":null},"x2":{"datum":42},"y":{"field":"lo","type":"quantitative","scale":{"domain":[-1,1.021],"nice":false,"zero":false},"axis":{"orient":"right","values":[-1,-0.5,0,0.5,1],"labelFontSize":41,"tickSize":-7,"labelExpr":"datum.value==0?'0':''+datum.value","title":"Vertical velocity (cm s⁻¹ )","titleFontSize":50,"titleAngle":270,"titleBaseline":"top","labelPadding":24,"titlePadding":24}},"y2":{"field":"hi"},
"color":{"field":"v","type":"ordinal","scale":{"domain":[0,1,2,3,4,5,6,7,8,9,10,11,12,13,14,15,16,17,18,19],"range":["#0D2A5F","#0A3B76","#07508A","#056495","#03789E","#0597A6","#54A9AA","#83BBAF","#ACCCBD","#D0D8D0","#DCD8D0","#E3D2B8","#E3BC94","#E1AB7C","#DA955F","#D0814F","#C66B3F","#BA5430","#AA3A24","#971B1A"]},"legend":null}}},
{"data":{"values":[{"lo":-1,"hi":1}]},"mark":{"type":"rect","fillOpacity":0,"stroke":"#333333","strokeWidth":2.5},"encoding":{"x":{"datum":4,"scale":{"domain":[0,42]},"axis":null},"x2":{"datum":42},"y":{"field":"lo","type":"quantitative"},"y2":{"field":"hi"}}}
]}
]}
